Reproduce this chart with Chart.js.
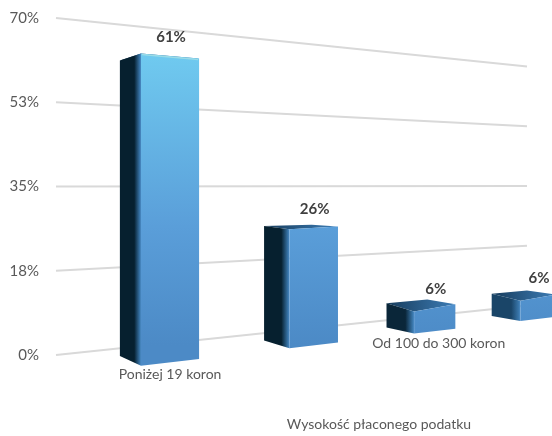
<!DOCTYPE html>
<html>
<head>
<meta charset="utf-8">
<script src="https://cdn.jsdelivr.net/npm/chart.js@4"></script>
<style>
body { margin: 0; background: #fff; }
canvas { display: block; }
</style>
</head>
<body>
<canvas id="myChart" width="552" height="436"></canvas>
<script>
const categories = ["Poniżej 19 koron", "", "Od 100 do 300 koron", ""];
const values = [61, 26, 6, 6];
const yTicks = [0, 17.5, 35, 52.5, 70];
const axisTitle = "Wysokość płaconego podatku";

// two point perspective, the flat chart is projected on these
const horizon = 185;
const vpRight = 1676;
const vpLeft = -250;
const gridLeft = 56;
const gridRight = 527;
const sideColors = ["#06202f", "#06202f", "#0a2639", "#1a4568"];

function projectX(k) {
    return 141 + 162.5 * k / (1 + 0.095 * k);
}
function groundY(x) {
    return horizon + 181 * (vpRight - x) / (vpRight - 139);
}
function sideDepth(k) {
    return 0.054 / (1 + 0.15 * k);
}
function towards(p, vpx, t) {
    return { x: p.x + (vpx - p.x) * t, y: p.y + (horizon - p.y) * t };
}
function lift(p, flatHeight, flatBase) {
    return { x: p.x, y: p.y - flatHeight * (p.y - horizon) / (flatBase - horizon) };
}
function poly(ctx, pts) {
    ctx.beginPath();
    ctx.moveTo(pts[0].x, pts[0].y);
    for (let i = 1; i < pts.length; i++) ctx.lineTo(pts[i].x, pts[i].y);
    ctx.closePath();
}

const perspectivePlugin = {
    id: "perspective",
    afterDatasetsDraw(chart) {
        const ctx = chart.ctx;
        const yScale = chart.scales.y;
        const bars = chart.getDatasetMeta(0).data;
        const step = bars[1].x - bars[0].x;
        const x0 = bars[0].x - bars[0].width / 2;
        const flatBase = yScale.getPixelForValue(0);

        ctx.save();
        // gridlines
        ctx.strokeStyle = "#d9d9d9";
        ctx.lineWidth = 2;
        yTicks.forEach(function (t) {
            const yl = yScale.getPixelForValue(t);
            const yr = horizon + (yl - horizon) * (vpRight - gridRight) / (vpRight - gridLeft);
            ctx.beginPath();
            ctx.moveTo(gridLeft, yl);
            ctx.lineTo(gridRight, yr);
            ctx.stroke();
        });

        const frontFill = ctx.createLinearGradient(0, 50, 0, 345);
        frontFill.addColorStop(0, "#70cbf0");
        frontFill.addColorStop(0.6, "#5a9ed9");
        frontFill.addColorStop(1, "#4c8ac6");

        bars.forEach(function (bar, i) {
            const k = (bar.x - bar.width / 2 - x0) / step;
            const kw = bar.width / step;
            const h = bar.base - bar.y;

            const fx = projectX(k);
            const rx = projectX(k + kw);
            const F = { x: fx, y: groundY(fx) };
            const R = { x: rx, y: groundY(rx) };
            const L = towards(F, vpLeft, sideDepth(k));
            const B = towards(R, vpLeft, sideDepth(k + kw));
            const Ft = lift(F, h, flatBase);
            const Rt = lift(R, h, flatBase);
            const Lt = lift(L, h, flatBase);
            const Bt = lift(B, h, flatBase);
            // bevel, the short bars show more of the cap
            Ft.y += Math.max(0, (Ft.y - horizon) * 0.025);

            // cap
            const cap = ctx.createLinearGradient(Lt.x, 0, Rt.x, 0);
            cap.addColorStop(0, "#173c5c");
            cap.addColorStop(1, "#3d7db6");
            ctx.fillStyle = cap;
            poly(ctx, [Lt, Bt, Rt, Ft]);
            ctx.fill();

            // side face
            const side = ctx.createLinearGradient(L.x, 0, F.x, 0);
            side.addColorStop(0, sideColors[i]);
            side.addColorStop(0.68, sideColors[i]);
            side.addColorStop(0.95, "#3a78ad");
            side.addColorStop(1, "#4d8cc6");
            ctx.fillStyle = side;
            poly(ctx, [Lt, Ft, F, L]);
            ctx.fill();

            // front face
            ctx.fillStyle = frontFill;
            poly(ctx, [Ft, Rt, R, F]);
            ctx.fill();

            // light edge on top of the tall bar
            if (Ft.y < horizon) {
                ctx.strokeStyle = "rgba(190,235,225,0.55)";
                ctx.lineWidth = 1.5;
                ctx.beginPath();
                ctx.moveTo(Ft.x + 1, Ft.y + 1);
                ctx.lineTo(Rt.x - 1, Rt.y + 1);
                ctx.stroke();
            }

            const midX = (F.x + R.x) / 2;
            const topY = (Ft.y + Rt.y) / 2;
            const botY = (F.y + R.y) / 2;

            ctx.textAlign = "center";
            ctx.textBaseline = "middle";
            ctx.font = "bold 15px Lato";
            ctx.fillStyle = "#404040";
            ctx.fillText(values[i] + "%", midX + 1, topY - 19);

            if (categories[i]) {
                ctx.font = "14px Lato";
                ctx.fillStyle = "#595959";
                ctx.fillText(categories[i], midX + 2 * k, botY + 12);
            }
        });

        ctx.textAlign = "center";
        ctx.textBaseline = "middle";
        ctx.font = "14px Lato";
        ctx.fillStyle = "#595959";
        ctx.fillText(axisTitle, 379, 424);
        ctx.restore();
    }
};

const myChart = new Chart(document.getElementById("myChart").getContext("2d"), {
    type: "bar",
    plugins: [perspectivePlugin],
    data: {
        labels: categories,
        datasets: [{
            data: values,
            backgroundColor: "rgba(0,0,0,0)",
            barPercentage: 0.37,
            categoryPercentage: 1
        }]
    },
    options: {
        responsive: false,
        animation: false,
        layout: { padding: { top: 12, bottom: 81 } },
        plugins: { legend: { display: false }, tooltip: { enabled: false } },
        scales: {
            x: { display: false },
            y: {
                min: 0,
                max: 70,
                afterFit: function (scale) { scale.width = 56; },
                afterBuildTicks: function (scale) {
                    scale.ticks = yTicks.map(function (v) { return { value: v }; });
                },
                grid: { display: false },
                border: { display: false },
                ticks: {
                    padding: 9,
                    color: "#595959",
                    font: { family: "Lato", size: 15 },
                    callback: function (v) { return Math.round(v) + "%"; }
                }
            }
        }
    }
});
</script>
</body>
</html>
